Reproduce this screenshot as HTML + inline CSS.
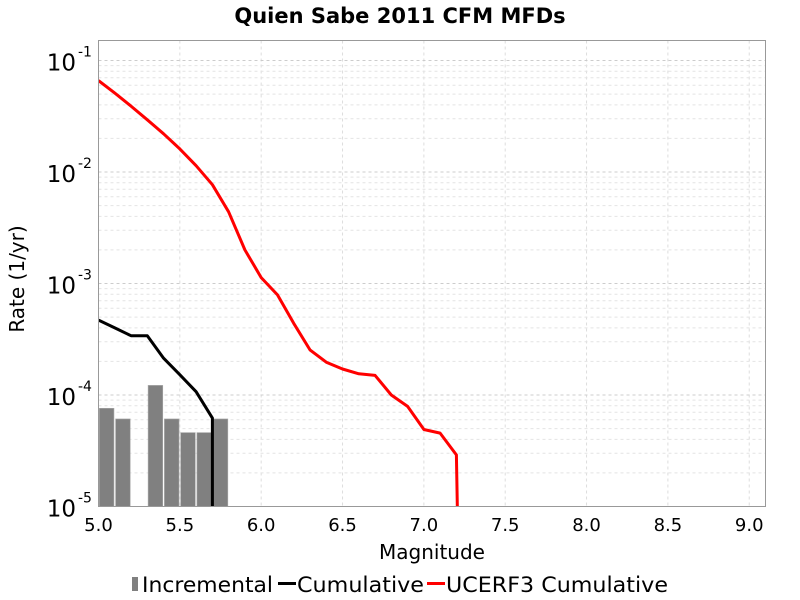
<!DOCTYPE html>
<html><head><meta charset="utf-8"><style>
html,body{margin:0;padding:0;background:#fff;width:800px;height:600px;overflow:hidden;}
svg{display:block;font-family:"DejaVu Sans","Liberation Sans",sans-serif;}
</style></head><body>
<svg id="chart" width="800" height="600">
  <text x="400" y="23" text-anchor="middle" font-size="21" font-weight="bold">Quien Sabe 2011 CFM MFDs</text>
  <g id="grid"></g>
  <g id="bars"></g>
  <g id="lines"></g>
  <rect x="98.5" y="40.5" width="667" height="466" fill="none" stroke="#999"/>
  <g id="xticks"></g>
  <g id="yticks"></g>
  <text x="432" y="559" text-anchor="middle" font-size="20">Magnitude</text>
  <text transform="translate(24,279) rotate(-90)" text-anchor="middle" font-size="20">Rate (1/yr)</text>
  <g>
    <g><rect x="132" y="577" width="6" height="14" fill="#808080"/><text x="142" y="592" font-size="21" textLength="131" lengthAdjust="spacingAndGlyphs">Incremental</text></g>
    <g><rect x="278" y="582" width="18" height="3" fill="#000"/><text x="297" y="592" font-size="21" textLength="127" lengthAdjust="spacingAndGlyphs">Cumulative</text></g>
    <g><rect x="427" y="582" width="18" height="3" fill="#f00"/><text x="446" y="592" font-size="21" textLength="222" lengthAdjust="spacingAndGlyphs">UCERF3 Cumulative</text></g>
  </g>
</svg>
<script>
const barMags = [5.05, 5.15, 5.35, 5.45, 5.55, 5.65, 5.75];
const barRates = [7.6e-5, 6.1e-5, 1.22e-4, 6.1e-5, 4.6e-5, 4.6e-5, 6.1e-5];
const cumMags = [5.0, 5.1, 5.2, 5.3, 5.4, 5.5, 5.6, 5.7, 5.7];
const cumRates = [4.7e-4, 4.0e-4, 3.4e-4, 3.4e-4, 2.14e-4, 1.52e-4, 1.07e-4, 6.2e-5, 1e-7];
const ucerfMags = [5.0,5.1,5.2,5.3,5.4,5.5,5.6,5.7,5.8,5.9,6.0,6.1,6.2,6.3,6.4,6.5,6.6,6.7,6.8,6.9,7.0,7.1,7.2,7.23];
const ucerfRates = [0.066,0.051,0.039,0.0294,0.022,0.0161,0.0114,0.0077,0.0044,0.0020,0.00113,7.9e-4,4.4e-4,2.54e-4,1.97e-4,1.71e-4,1.55e-4,1.50e-4,1.0e-4,7.9e-5,4.9e-5,4.55e-5,2.9e-5,1e-7];
const xTickLabels = ["5.0","5.5","6.0","6.5","7.0","7.5","8.0","8.5","9.0"];
const yTickExps = [-1,-2,-3,-4,-5];

const NS="http://www.w3.org/2000/svg";
const X0=98.5, X1=765.5, Y0=40.5, Y1=506.5;
const xMin=5.0, xMax=9.1;
const yMinL=-5, yMaxL=-5+466/111.5;
const xs=m=>X0+(m-xMin)/(xMax-xMin)*(X1-X0);
const ys=v=>Y1-(Math.log10(v)-yMinL)/(yMaxL-yMinL)*(Y1-Y0);
function mk(tag,attrs,parent){const e=document.createElementNS(NS,tag);for(const k in attrs)e.setAttribute(k,attrs[k]);parent.appendChild(e);return e;}
const grid=document.getElementById('grid');
xTickLabels.forEach(t=>{const x=xs(parseFloat(t));
  const l=mk('line',{x1:x,x2:x,y1:Y0,y2:Y1,stroke:'#ddd','stroke-dasharray':'3,3'},grid);
  
  
  const tx=mk('text',{x:x,y:531,'text-anchor':'middle','font-size':'18'},document.getElementById('xticks'));
  tx.textContent=t;
  
  
});
for(let e=-5;e<=-1;e++){for(let k=1;k<10;k++){const v=k*Math.pow(10,e);const y=ys(v);if(y<Y0)continue;
  const l=mk('line',{x1:X0,x2:X1,y1:y,y2:y,stroke:k==1?'#ccc':'#e4e4e4','stroke-dasharray':'3,3'},grid);
  
  
}}
yTickExps.forEach(e=>{const y=ys(Math.pow(10,e));
  const t=mk('text',{x:76,y:y+10,'text-anchor':'end','font-size':'23'},document.getElementById('yticks'));
  t.textContent='10';
  
  
  const s=mk('text',{x:78,y:y-4,'font-size':'14'},document.getElementById('yticks'));
  s.textContent=String(e);
  
  
});
const bars=document.getElementById('bars');
barMags.forEach((m,i)=>{const x=xs(m-0.045), w=xs(m+0.045)-x, y=ys(barRates[i]);
  const r=mk('rect',{x:x,y:y,width:w,height:Y1-y,fill:'#808080',stroke:'#aaa','stroke-width':'0.6'},bars);
  
  
});
const lines=document.getElementById('lines');
const clip=mk('clipPath',{id:'clip'},lines);
mk('rect',{x:X0,y:Y0,width:X1-X0,height:Y1-Y0},clip);
function poly(ms,vs,color,name){const pts=ms.map((m,i)=>xs(m).toFixed(1)+','+ys(vs[i]).toFixed(1)).join(' ');
  const p=mk('polyline',{points:pts,fill:'none',stroke:color,'stroke-width':'3','stroke-linejoin':'round','clip-path':'url(#clip)'},lines);
  
  
}
poly(cumMags,cumRates,'#000','cumulative-line');
poly(ucerfMags,ucerfRates,'#f00','ucerf3-cumulative-line');
</script>
</body></html>
